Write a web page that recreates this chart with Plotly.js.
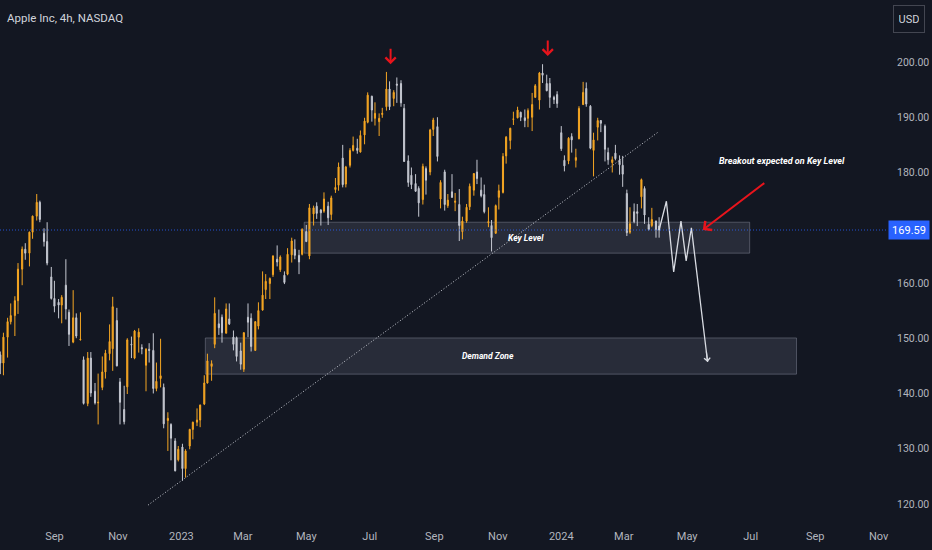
<!DOCTYPE html>
<html>
<head>
<meta charset="utf-8">
<script src="https://cdn.plot.ly/plotly-3.0.1.min.js"></script>
<style>
  html, body { margin: 0; padding: 0; background: #131722; }
  #chart { width: 932px; height: 550px; }
</style>
</head>
<body>
<div id="chart"></div>
<script>
// ---- Data (half-week bars, AAPL) ----
const dates = [
 '2022-07-11','2022-07-14','2022-07-18','2022-07-21','2022-07-25','2022-07-28','2022-08-01','2022-08-04',
 '2022-08-08','2022-08-11','2022-08-15','2022-08-18','2022-08-22','2022-08-25','2022-08-29','2022-09-01',
 '2022-09-05','2022-09-08','2022-09-12','2022-09-15','2022-09-19','2022-09-22','2022-09-26','2022-09-29',
 '2022-10-03','2022-10-06','2022-10-10','2022-10-13','2022-10-17','2022-10-20','2022-10-24','2022-10-27',
 '2022-10-31','2022-11-03','2022-11-07','2022-11-10','2022-11-14','2022-11-17','2022-11-21','2022-11-24',
 '2022-11-28','2022-12-01','2022-12-05','2022-12-08','2022-12-12','2022-12-15','2022-12-19','2022-12-22',
 '2022-12-26','2022-12-29',
 '2023-01-02','2023-01-05','2023-01-09','2023-01-12','2023-01-16','2023-01-19','2023-01-23','2023-01-26',
 '2023-01-30','2023-02-02','2023-02-06','2023-02-09','2023-02-13','2023-02-16','2023-02-20','2023-02-23',
 '2023-02-27','2023-03-02','2023-03-06','2023-03-09','2023-03-13','2023-03-16','2023-03-20','2023-03-23',
 '2023-03-27','2023-03-30','2023-04-03','2023-04-06','2023-04-10','2023-04-13','2023-04-17','2023-04-20',
 '2023-04-24','2023-04-27','2023-05-01','2023-05-04','2023-05-08','2023-05-11','2023-05-15','2023-05-18',
 '2023-05-22','2023-05-25','2023-05-29','2023-06-01','2023-06-05','2023-06-08','2023-06-12','2023-06-15',
 '2023-06-19','2023-06-22','2023-06-26','2023-06-29','2023-07-03','2023-07-06','2023-07-10','2023-07-13',
 '2023-07-17','2023-07-20','2023-07-24','2023-07-27','2023-07-31','2023-08-03','2023-08-07','2023-08-10',
 '2023-08-14','2023-08-17','2023-08-21','2023-08-24','2023-08-28','2023-08-31','2023-09-04','2023-09-07',
 '2023-09-11','2023-09-14','2023-09-18','2023-09-21','2023-09-25','2023-09-28','2023-10-02','2023-10-05',
 '2023-10-09','2023-10-12','2023-10-16','2023-10-19','2023-10-23','2023-10-26','2023-10-30','2023-11-02',
 '2023-11-06','2023-11-09','2023-11-13','2023-11-16','2023-11-20','2023-11-23','2023-11-27','2023-11-30',
 '2023-12-04','2023-12-07','2023-12-11','2023-12-14','2023-12-18','2023-12-21','2023-12-25','2023-12-28',
 '2024-01-01','2024-01-04','2024-01-08','2024-01-11','2024-01-15','2024-01-18','2024-01-22','2024-01-25',
 '2024-01-29','2024-02-01','2024-02-05','2024-02-08','2024-02-12','2024-02-15','2024-02-19','2024-02-22',
 '2024-02-26','2024-02-29','2024-03-04','2024-03-07','2024-03-11','2024-03-14','2024-03-18','2024-03-21',
 '2024-03-25','2024-03-28','2024-04-01','2024-04-04'
];
const open = [
 147.0,145.5,150.2,153.0,154.1,156.8,162.5,166.1,165.4,169.2,172.1,174.6,169.0,167.5,161.1,157.2,
 156.5,156.0,159.6,154.7,149.3,153.7,149.7,146.1,138.2,146.4,140.4,138.3,141.1,143.9,147.2,148.1,
 153.2,142.1,137.1,141.2,148.9,146.4,150.2,148.3,145.1,148.0,147.8,140.9,142.7,141.1,135.1,134.4,
 131.4,128.0,
 130.3,126.4,130.5,133.5,134.8,135.2,138.1,141.9,144.9,148.9,152.6,153.8,150.9,153.5,150.2,150.1,
 147.7,144.4,153.8,153.6,147.8,152.2,155.1,158.8,159.9,161.5,164.3,162.4,161.4,161.6,165.1,166.1,
 165.0,165.2,169.3,164.9,172.5,173.9,173.2,173.0,173.9,172.4,176.9,177.7,182.6,177.9,181.3,184.0,
 184.4,183.7,186.8,189.1,193.8,189.8,189.2,190.5,191.9,195.1,193.4,196.0,196.1,191.6,182.1,179.5,
 178.0,177.1,175.1,180.7,180.1,187.8,188.3,175.2,180.1,174.0,176.5,174.6,174.2,169.3,171.2,173.8,
 176.8,180.1,176.8,176.0,170.9,170.4,169.0,175.5,176.4,183.0,185.8,189.6,189.9,190.9,189.9,189.8,
 190.0,193.6,193.1,198.0,196.1,196.1,193.6,194.1,
 187.2,182.2,182.1,186.5,182.2,186.1,192.3,195.2,192.0,184.0,188.2,189.4,188.4,183.6,181.8,183.5,
 182.2,181.3,176.2,169.2,172.9,172.9,175.6,177.1,170.6,170.4,171.2,170.3
];
const high = [
 147.6,151.0,153.7,156.3,157.6,163.6,166.6,167.2,169.3,172.2,176.1,174.9,169.9,171.0,162.9,160.4,
 157.1,157.8,164.3,155.2,158.7,154.5,154.7,146.7,147.5,147.5,141.9,143.6,146.7,147.9,152.5,157.5,
 155.5,142.8,141.4,150.0,150.3,151.5,151.8,148.9,148.2,149.1,150.9,145.6,149.9,141.8,136.6,134.6,
 131.9,130.5,
 130.9,129.9,133.6,134.9,137.3,138.0,143.3,147.2,146.0,157.4,155.2,154.3,156.3,156.3,151.4,150.3,
 149.2,151.1,156.3,154.5,153.1,156.5,162.1,161.6,161.0,165.0,166.8,165.0,162.1,166.3,168.2,167.9,
 166.0,169.9,170.5,174.3,174.0,174.6,173.4,176.4,174.7,175.8,179.0,181.8,185.0,181.2,184.4,186.5,
 186.1,187.6,189.9,194.5,193.9,192.7,190.7,191.7,198.2,196.5,194.9,197.2,196.7,192.4,183.1,180.9,
 179.7,177.5,181.6,181.1,187.9,189.9,190.0,178.6,180.5,176.1,179.7,176.3,177.0,172.0,174.3,178.0,
 179.9,182.3,179.1,177.8,173.7,171.4,174.2,177.8,183.5,186.6,188.1,191.0,191.9,191.0,191.4,191.6,
 194.4,196.0,198.2,199.6,197.7,197.1,193.9,194.7,
 188.4,183.1,186.4,187.1,184.3,192.0,196.4,196.3,192.2,187.2,189.9,189.5,188.7,184.5,182.9,185.0,
 183.1,183.0,176.9,173.7,174.4,174.3,178.9,177.5,171.9,173.6,171.3,171.9
];
const low = [
 143.5,143.3,146.5,152.5,150.4,154.4,159.6,164.2,163.0,168.0,171.3,171.0,166.6,163.2,157.0,154.7,
 153.6,152.7,153.4,148.6,149.1,150.0,149.6,138.0,137.7,139.4,138.0,134.4,140.6,142.7,146.0,144.1,
 144.9,134.4,134.4,139.9,146.4,146.2,147.4,147.1,140.4,145.6,140.0,140.4,141.1,133.7,129.6,127.9,
 125.9,127.7,
 124.2,124.8,129.9,131.7,134.1,133.9,137.9,141.8,142.3,148.2,150.6,149.2,150.9,152.4,147.8,145.8,
 144.3,143.9,150.2,147.6,147.7,151.6,155.0,157.1,157.1,161.1,163.0,162.0,159.8,161.4,163.7,164.3,
 161.6,165.0,167.4,164.3,170.4,171.6,170.4,172.7,170.5,171.4,176.3,176.7,177.3,177.3,180.9,183.8,
 183.4,183.6,185.1,188.9,189.2,188.5,186.6,189.9,191.2,191.3,192.0,192.6,191.9,181.9,177.4,177.0,
 176.5,172.0,174.2,176.0,179.5,186.6,182.0,173.5,173.1,173.6,175.4,173.0,167.6,167.9,170.9,173.2,
 175.8,177.9,175.5,172.6,170.1,165.7,168.9,173.3,176.2,181.6,184.2,188.6,189.8,189.3,188.2,188.2,
 187.5,193.5,191.4,196.2,194.7,191.7,192.4,191.7,
 183.9,180.2,181.5,183.6,180.9,186.0,192.2,191.9,184.2,179.3,185.8,187.3,182.0,181.4,180.0,182.2,
 179.6,177.4,168.5,168.9,170.8,170.3,173.5,170.7,169.5,170.1,168.2,168.2
];
const close = [
 145.5,150.2,153.0,154.1,156.8,162.5,166.1,165.4,169.2,172.1,174.6,171.5,167.5,163.6,157.2,155.8,
 156.0,157.4,155.3,150.7,153.7,150.4,149.8,138.2,146.4,140.1,138.3,138.4,143.9,147.3,149.4,155.7,
 145.0,138.4,134.9,149.7,148.8,151.3,151.1,148.1,148.0,147.8,140.9,142.2,143.2,134.5,135.5,131.9,
 126.0,129.9,
 126.4,129.6,133.5,134.8,135.2,137.9,141.9,145.9,145.4,154.5,151.9,151.0,155.3,152.6,148.9,146.7,
 145.3,151.0,152.9,148.5,153.0,155.0,157.8,160.3,160.8,164.9,163.8,164.7,160.1,165.2,167.6,165.0,
 163.8,169.7,167.5,173.6,173.6,172.6,172.7,175.2,171.8,175.4,177.3,181.0,177.8,181.0,184.0,184.9,
 184.0,186.7,189.3,194.0,191.3,190.7,189.8,190.7,195.1,191.9,194.5,195.8,192.6,182.0,178.2,177.8,
 176.6,174.5,181.1,178.6,187.7,189.5,182.9,178.2,174.2,175.0,175.5,174.8,170.4,171.2,173.7,177.5,
 179.8,178.9,175.8,172.9,171.1,168.2,174.0,176.7,182.9,186.4,188.0,189.7,191.3,190.0,189.4,191.2,
 192.3,195.7,198.0,197.6,194.8,193.6,193.2,192.5,
 184.3,181.2,186.2,185.9,182.7,191.6,194.5,192.4,184.4,185.9,189.4,188.9,184.2,182.3,182.3,182.5,
 181.4,179.7,169.1,170.7,171.1,172.6,178.7,172.3,169.7,171.5,169.7,169.59
];
const lastPrice = 169.59;

// projected path drawn by the author
const projDates  = ['2024-04-04','2024-04-11','2024-04-18','2024-04-25','2024-04-30','2024-05-05','2024-05-20 14:00'];
const projPrices = [169.59, 174.8, 162.0, 171.2, 164.0, 170.0, 145.7];

// rising trend line
const trendDates  = ['2022-11-30', '2024-04-03'];
const trendPrices = [119.8, 187.3];

// zones
const keyLevel   = {from: '2023-04-29', to: '2024-06-30', lo: 165.4, hi: 171.0};
const demandZone = {from: '2023-01-24', to: '2024-08-14', lo: 143.5, hi: 150.05};

// axis ticks
const xTickVals = ['2022-09-01','2022-11-01','2023-01-01','2023-03-01','2023-05-01','2023-07-01','2023-09-01',
                   '2023-11-01','2024-01-01','2024-03-01','2024-05-01','2024-07-01','2024-09-01','2024-11-01'];
const xTickText = ['Sep','Nov','2023','Mar','May','Jul','Sep','Nov','2024','Mar','May','Jul','Sep','Nov'];
const yTickVals = [120,130,140,150,160,180,190,200];
const yTickText = ['120.00','130.00','140.00','150.00','160.00','180.00','190.00','200.00'];

// ---- Plot ----
const FONT = 'Roboto, "Open Sans", sans-serif';
const TXT = '#b2b5be';
const yMin = 117.10, yMax = 211.22;

const candles = {
  type: 'candlestick',
  x: dates, open: open, high: high, low: low, close: close,
  increasing: {line: {color: '#f5a623', width: 1}, fillcolor: '#f5a623'},
  decreasing: {line: {color: '#c5c8d1', width: 1}, fillcolor: '#c5c8d1'},
  whiskerwidth: 0,
  hoverinfo: 'skip',
  showlegend: false
};
const trend = {
  type: 'scatter', mode: 'lines', x: trendDates, y: trendPrices,
  line: {color: '#c9ccd4', width: 1, dash: '1px,2px'}, hoverinfo: 'skip', showlegend: false
};
const proj = {
  type: 'scatter', mode: 'lines', x: projDates, y: projPrices,
  line: {color: '#d8dbe2', width: 1.3}, hoverinfo: 'skip', showlegend: false
};

const zoneFill = 'rgba(120,123,140,0.22)';
const zoneLine = 'rgba(140,143,160,0.45)';

const layout = {
  width: 932, height: 550,
  paper_bgcolor: '#131722', plot_bgcolor: '#131722',
  margin: {l: 0, r: 46, t: 0, b: 30},
  showlegend: false,
  hovermode: false,
  boxgap: 0.5,
  font: {family: FONT, color: TXT, size: 11},
  xaxis: {
    type: 'date',
    range: ['2022-07-10 17:00', '2024-11-08'],
    tickvals: xTickVals, ticktext: xTickText,
    showgrid: false, zeroline: false, showline: false, ticks: '',
    ticklabelstandoff: 8,
    tickfont: {family: FONT, color: TXT, size: 11},
    rangeslider: {visible: false},
    fixedrange: true
  },
  yaxis: {
    side: 'right',
    range: [yMin, yMax],
    tickvals: yTickVals, ticktext: yTickText,
    showgrid: false, zeroline: false, showline: false, ticks: '',
    ticklabelstandoff: 10,
    tickfont: {family: FONT, color: TXT, size: 10.5},
    fixedrange: true
  },
  shapes: [
    {type: 'rect', xref: 'x', yref: 'y', x0: demandZone.from, x1: demandZone.to, y0: demandZone.lo, y1: demandZone.hi,
     fillcolor: zoneFill, line: {color: zoneLine, width: 1}, layer: 'below'},
    {type: 'rect', xref: 'x', yref: 'y', x0: keyLevel.from, x1: keyLevel.to, y0: keyLevel.lo, y1: keyLevel.hi,
     fillcolor: zoneFill, line: {color: zoneLine, width: 1}, layer: 'below'},
    {type: 'line', xref: 'paper', yref: 'y', x0: 0, x1: 1, y0: lastPrice, y1: lastPrice,
     line: {color: 'rgba(41,98,255,0.8)', width: 1, dash: '1px,2px'}}
  ],
  annotations: [
    {xref: 'paper', yref: 'paper', x: 0.006, y: 0.966, xanchor: 'left', yanchor: 'middle', showarrow: false,
     text: 'Apple Inc, 4h, NASDAQ', font: {family: FONT, size: 11.5, color: '#d1d4dc'}},
    {xref: 'paper', yref: 'paper', x: 1.026, y: 0.963, xanchor: 'center', yanchor: 'middle', showarrow: false,
     text: 'USD', font: {family: FONT, size: 11, color: '#d1d4dc'},
     bordercolor: '#434651', borderwidth: 1, borderpad: 5, width: 20, height: 16},
    {xref: 'paper', yref: 'y', x: 1.002, y: lastPrice, xanchor: 'left', yanchor: 'middle', showarrow: false,
     text: lastPrice.toFixed(2), font: {family: FONT, size: 11, color: '#ffffff'},
     bgcolor: '#2962ff', borderpad: 2, width: 36, height: 14},
    {xref: 'x', yref: 'y', x: '2023-11-28', y: 168.1, showarrow: false, text: 'Key Level',
     font: {family: FONT, size: 8.5, color: '#ffffff', style: 'italic', weight: 'bold'}},
    {xref: 'x', yref: 'y', x: '2023-10-23', y: 146.8, showarrow: false, text: 'Demand Zone',
     font: {family: FONT, size: 8.5, color: '#ffffff', style: 'italic', weight: 'bold'}},
    {xref: 'x', yref: 'y', x: '2024-07-31', y: 182.1, showarrow: false, text: 'Breakout expected on Key Level',
     font: {family: FONT, size: 9, color: '#ffffff', style: 'italic', weight: 'bold'}},
    {xref: 'x', yref: 'y', x: '2023-07-21', y: 199.6, text: '', showarrow: true, ax: 0, ay: -17,
     arrowcolor: '#e8141c', arrowwidth: 2, arrowhead: 4, arrowsize: 1},
    {xref: 'x', yref: 'y', x: '2023-12-19', y: 201.1, text: '', showarrow: true, ax: 0, ay: -17,
     arrowcolor: '#e8141c', arrowwidth: 2, arrowhead: 4, arrowsize: 1},
    {xref: 'x', yref: 'y', x: '2024-05-16', y: 169.6, text: '', showarrow: true, ax: 63, ay: -48,
     arrowcolor: '#e8141c', arrowwidth: 2, arrowhead: 4, arrowsize: 1.1},
    {xref: 'x', yref: 'y', x: projDates[projDates.length - 1], y: projPrices[projPrices.length - 1], text: '',
     showarrow: true, ax: -1.4, ay: -12, arrowcolor: '#d8dbe2', arrowwidth: 1.2, arrowhead: 4, arrowsize: 1}
  ]
};

Plotly.newPlot('chart', [trend, candles, proj], layout, {staticPlot: true, displayModeBar: false});
</script>
</body>
</html>
